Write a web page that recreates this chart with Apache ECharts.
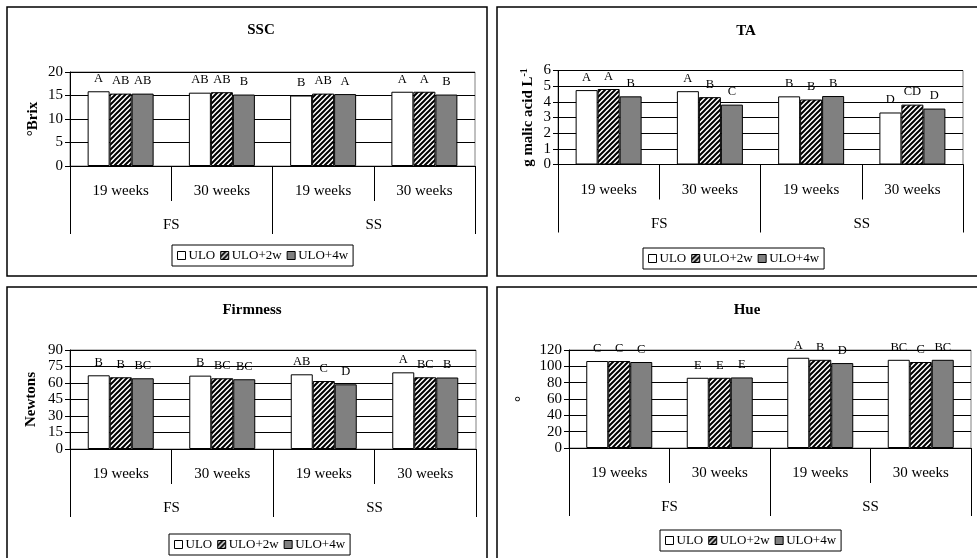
<!DOCTYPE html>
<html>
<head>
<meta charset="utf-8">
<script src="https://cdn.jsdelivr.net/npm/echarts@6/dist/echarts.min.js"></script>
<style>
html,body{margin:0;padding:0;background:#fff;}
#c{width:977px;height:558px;}
</style>
</head>
<body>
<div id="c"></div>
<script>
// ---- data ----
const categories = ['19 weeks', '30 weeks', '19 weeks', '30 weeks'];
const groups = ['FS', 'SS'];
const seriesNames = ['ULO', 'ULO+2w', 'ULO+4w'];

const sscULO = [15.9, 15.6, 15.0, 15.8];
const sscULO2w = [15.4, 15.7, 15.4, 15.8];
const sscULO4w = [15.4, 15.2, 15.3, 15.2];
const sscLetters = [['A', 'AB', 'B', 'A'], ['AB', 'AB', 'AB', 'A'], ['AB', 'B', 'A', 'B']];

const taULO = [4.75, 4.68, 4.35, 3.32];
const taULO2w = [4.82, 4.3, 4.15, 3.82];
const taULO4w = [4.35, 3.82, 4.37, 3.57];
const taLetters = [['A', 'A', 'B', 'D'], ['A', 'B', 'B', 'CD'], ['B', 'C', 'B', 'D']];

const firmULO = [67.0, 66.7, 67.9, 69.7];
const firmULO2w = [65.2, 64.3, 61.8, 65.2];
const firmULO4w = [64.3, 63.4, 58.8, 65.0];
const firmLetters = [['B', 'B', 'AB', 'A'], ['B', 'BC', 'C', 'BC'], ['BC', 'BC', 'D', 'B']];

const hueULO = [106.5, 86.0, 110.5, 108.0];
const hueULO2w = [106.5, 86.0, 108.0, 105.3];
const hueULO4w = [105.3, 86.4, 104.0, 108.0];
const hueLetters = [['C', 'E', 'A', 'BC'], ['C', 'E', 'B', 'C'], ['C', 'E', 'D', 'BC']];

const panelTitles = ['SSC', 'TA', 'Firmness', 'Hue'];
const yTicks = [[0, 20, 5], [0, 6, 1], [0, 90, 15], [0, 120, 20]];

// ---- styling ----
const FONT = '"Liberation Serif", "Times New Roman", serif';

function makeHatch() {
  const s = 5;
  const cv = document.createElement('canvas');
  cv.width = s; cv.height = s;
  const g = cv.getContext('2d');
  g.fillStyle = '#fff';
  g.fillRect(0, 0, s, s);
  g.strokeStyle = '#000';
  g.lineWidth = 2;
  g.beginPath();
  g.moveTo(-1, s + 1); g.lineTo(s + 1, -1);
  g.moveTo(-1, 1); g.lineTo(1, -1);
  g.moveTo(s - 1, s + 1); g.lineTo(s + 1, s - 1);
  g.stroke();
  return cv;
}
const hatch = { image: makeHatch(), repeat: 'repeat' };
const fills = ['#ffffff', hatch, '#808080'];

const panels = [
  { vals: [sscULO, sscULO2w, sscULO4w], letters: sscLetters, name: '°Brix', nameGap: 29,
    grid: { left: 70, top: 72, width: 405, height: 94 }, title: [256, 18],
    legend: [172, 245] },
  { vals: [taULO, taULO2w, taULO4w], letters: taLetters, name: 'g malic acid L{sup|-1}', nameGap: 21,
    grid: { left: 558, top: 70.5, width: 405, height: 94 }, title: [741, 19],
    legend: [643, 248] },
  { vals: [firmULO, firmULO2w, firmULO4w], letters: firmLetters, name: 'Newtons', nameGap: 31,
    grid: { left: 70, top: 350, width: 406, height: 99 }, title: [247, 298],
    legend: [169, 534] },
  { vals: [hueULO, hueULO2w, hueULO4w], letters: hueLetters, name: '°', nameGap: 40,
    grid: { left: 569, top: 350, width: 402, height: 98 }, title: [742, 298],
    legend: [660, 530] }
];

const option = {
  backgroundColor: '#fff',
  animation: false,
  title: [], grid: [], xAxis: [], yAxis: [], series: [], legend: [],
  graphic: [
    { type: 'rect', shape: { x: 7, y: 7, width: 480, height: 269 }, style: { fill: null, stroke: '#000', lineWidth: 1.5 } },
    { type: 'rect', shape: { x: 497, y: 7, width: 500, height: 269 }, style: { fill: null, stroke: '#000', lineWidth: 1.5 } },
    { type: 'rect', shape: { x: 7, y: 287, width: 480, height: 290 }, style: { fill: null, stroke: '#000', lineWidth: 1.5 } },
    { type: 'rect', shape: { x: 497, y: 287, width: 500, height: 290 }, style: { fill: null, stroke: '#000', lineWidth: 1.5 } }
  ]
};

panels.forEach((p, i) => {
  option.title.push({
    text: panelTitles[i], left: p.title[0], top: p.title[1], textAlign: 'center',
    textStyle: { fontFamily: FONT, fontSize: 15, fontWeight: 'bold', color: '#000' }
  });
  option.grid.push(Object.assign({ show: true, borderColor: '#808080', borderWidth: 1, backgroundColor: 'transparent', containLabel: false, outerBoundsMode: 'none' }, p.grid));
  option.xAxis.push({
    type: 'category', gridIndex: i, data: categories, position: 'bottom',
    axisLine: { show: true, lineStyle: { color: '#000', width: 1 } },
    axisTick: { show: true, interval: 0, alignWithLabel: false, length: 35, lineStyle: { color: '#000', width: 1 } },
    axisLabel: { interval: 0, margin: 18, fontFamily: FONT, fontSize: 15, color: '#000' },
    splitLine: { show: false }
  });
  option.xAxis.push({
    type: 'category', gridIndex: i, data: groups, position: 'bottom',
    axisLine: { show: false },
    axisTick: { show: true, interval: 0, alignWithLabel: false, length: 68, lineStyle: { color: '#000', width: 1 } },
    axisLabel: { interval: 0, margin: 52, fontFamily: FONT, fontSize: 15, color: '#000' },
    splitLine: { show: false }
  });
  const t = yTicks[i];
  option.yAxis.push({
    type: 'value', gridIndex: i, min: t[0], max: t[1], interval: t[2],
    name: p.name, nameLocation: 'middle', nameRotate: 90, nameGap: p.nameGap,
    nameTextStyle: { fontFamily: FONT, fontSize: 15, fontWeight: 'bold', color: '#000',
      rich: { sup: { fontFamily: FONT, fontSize: 10, fontWeight: 'bold', color: '#000', verticalAlign: 'top', padding: [0, 0, 8, 0] } } },
    axisLine: { show: true, lineStyle: { color: '#000', width: 1 } },
    axisTick: { show: true, length: 5, lineStyle: { color: '#000' } },
    axisLabel: { margin: 7, fontFamily: FONT, fontSize: 15, color: '#000' },
    splitLine: { show: true, lineStyle: { color: '#000', width: 1 } }
  });
  p.vals.forEach((arr, k) => {
    const lets = p.letters[k];
    option.series.push({
      type: 'bar', name: seriesNames[k], xAxisIndex: i * 2, yAxisIndex: i,
      data: arr, barWidth: 22, barGap: '0%',
      itemStyle: { color: fills[k], borderColor: '#000', borderWidth: 1 },
      label: { show: true, position: 'top', distance: 6, fontFamily: FONT, fontSize: 12.5, color: '#000',
        formatter: (d) => lets[d.dataIndex] },
      emphasis: { disabled: true }
    });
  });
  option.legend.push({
    data: seriesNames, left: p.legend[0], top: p.legend[1], orient: 'horizontal',
    icon: 'rect', itemWidth: 8, itemHeight: 8, itemGap: 5,
    padding: [4, 5, 4, 5], borderColor: '#000', borderWidth: 1, backgroundColor: '#fff',
    textStyle: { fontFamily: FONT, fontSize: 13, color: '#000', padding: [0, 0, 0, -2] },
    itemStyle: { borderColor: '#000', borderWidth: 1 },
    selectedMode: false
  });
});

const chart = echarts.init(document.getElementById('c'), null, { renderer: 'canvas', width: 977, height: 558 });
chart.setOption(option);
</script>
</body>
</html>
